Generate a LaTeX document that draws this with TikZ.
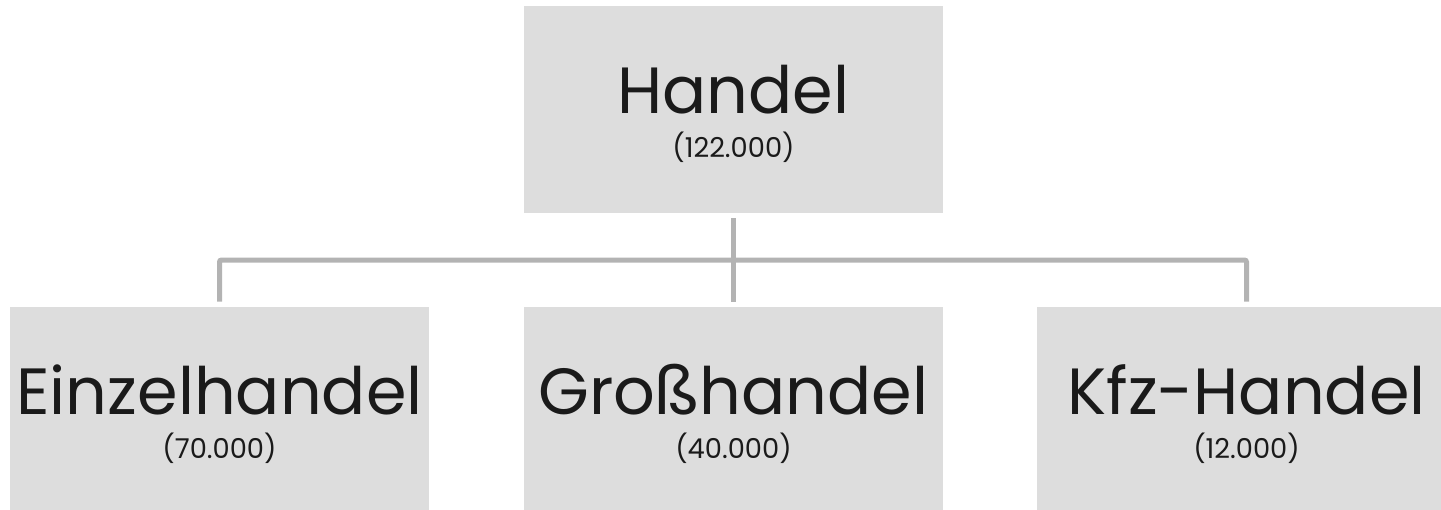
\documentclass[tikz,border=0pt]{standalone}
\usepackage{fontspec}
\setmainfont{Poppins}
\usetikzlibrary{positioning}
\definecolor{boxgray}{HTML}{DDDDDD}
\definecolor{linegray}{HTML}{B3B3B3}
\definecolor{textblack}{HTML}{1A1A1A}
% strut that lowers the two-line label a little inside its box
\newcommand{\toppad}{\rule{0pt}{43pt}}

\begin{document}
\begin{tikzpicture}[x=0.75pt, y=-0.75pt,
    branch/.style={fill=boxgray, text=textblack, align=center,
        minimum width=314.25pt, minimum height=155.25pt, inner sep=0pt},
    conn/.style={draw=linegray, line width=3.75pt, rounded corners=1.5pt,
        shorten <=3.75pt, shorten >=3.75pt}]
    \useasboundingbox (0,0) rectangle (1441,510);

    \node[branch] (handel) at (733.5, 109.5)
        {\fontsize{49}{49}\selectfont\toppad Handel\\[12.75pt]\fontsize{20.5}{20.5}\selectfont (122.000)};
    \node[branch] (einzel) at (219.5, 410.5)
        {\fontsize{49}{49}\selectfont\toppad Einzelhandel\\[12.75pt]\fontsize{20.5}{20.5}\selectfont (70.000)};
    \node[branch] (gross) at (733.5, 410.5)
        {\fontsize{49}{49}\selectfont\toppad Großhandel\\[12.75pt]\fontsize{20.5}{20.5}\selectfont (40.000)};
    \node[branch] (kfz) at (1246.5, 410.5)
        {\fontsize{49}{49}\selectfont\toppad Kfz-Handel\\[12.75pt]\fontsize{20.5}{20.5}\selectfont (12.000)};

    \coordinate (split) at (733.5, 260);

    \draw[conn] (handel) -- (gross);
    \draw[conn] (einzel) |- (split) -| (kfz);
\end{tikzpicture}
\end{document}
